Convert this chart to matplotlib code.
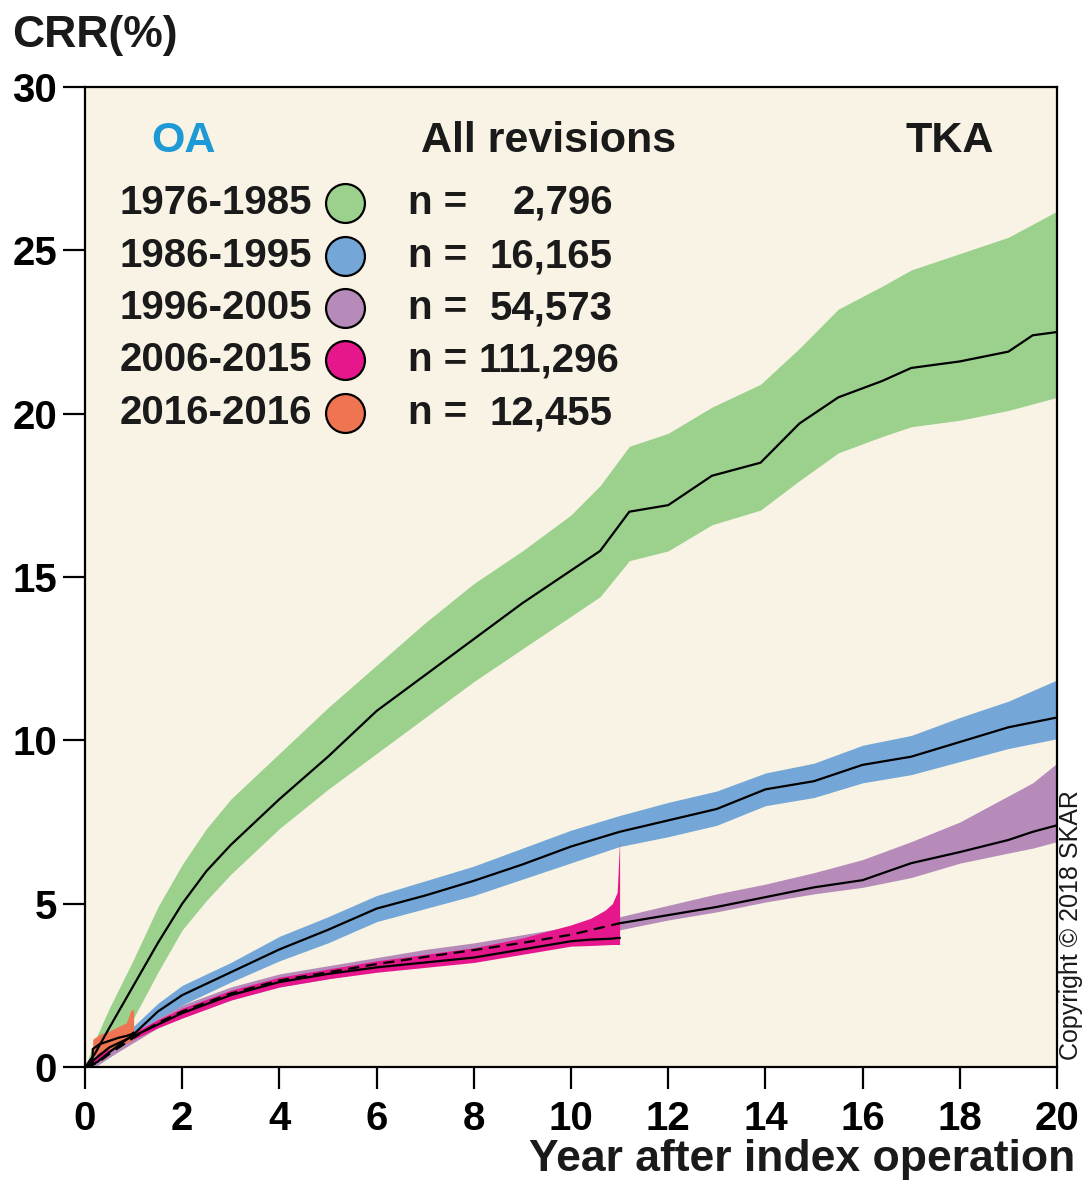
import matplotlib
matplotlib.use("Agg")
import matplotlib.pyplot as plt

plt.rcParams['font.family'] = ['Liberation Sans', 'DejaVu Sans']
plt.rcParams['font.weight'] = 'bold'

# 1976-1985
green_x = [0, 0.2, 0.5, 1, 1.5, 2, 2.5, 3, 4, 5, 6, 7, 8, 9, 10, 10.6, 11.2, 12, 12.9, 13.9,
           14.7, 15.5, 16.4, 17, 18, 19, 19.5, 20]
green_med = [0, 0.4, 1.2, 2.5, 3.8, 5.0, 6.0, 6.8, 8.2, 9.5, 10.9, 12.0, 13.1, 14.2, 15.2, 15.8,
             17.0, 17.2, 18.1, 18.5, 19.7, 20.5, 21.0, 21.4, 21.6, 21.9, 22.4, 22.5]
green_hi = [0, 0.8, 1.8, 3.3, 4.9, 6.2, 7.3, 8.2, 9.6, 11.0, 12.3, 13.6, 14.8, 15.8, 16.9, 17.8,
            19.0, 19.4, 20.2, 20.9, 22.0, 23.2, 23.9, 24.4, 24.9, 25.4, 25.8, 26.2]
green_lo = [0, 0.1, 0.7, 1.5, 2.9, 4.2, 5.1, 5.9, 7.3, 8.5, 9.6, 10.7, 11.8, 12.8, 13.8, 14.4,
            15.5, 15.8, 16.6, 17.05, 17.95, 18.8, 19.3, 19.6, 19.8, 20.1, 20.3, 20.5]

# 1986-1995
blue_x = [0, 0.25, 0.5, 1, 1.5, 2, 3, 4, 5, 6, 7, 8, 9, 10, 11, 12, 13, 14, 15, 16, 17, 18, 19, 20]
blue_med = [0, 0.15, 0.45, 1.0, 1.7, 2.2, 2.9, 3.6, 4.2, 4.85, 5.25, 5.7, 6.2, 6.75, 7.2, 7.55,
            7.9, 8.5, 8.75, 9.25, 9.5, 9.95, 10.4, 10.7]
blue_hi = [0, 0.3, 0.65, 1.25, 1.95, 2.5, 3.2, 4.0, 4.6, 5.25, 5.7, 6.15, 6.7, 7.25, 7.7, 8.1,
           8.45, 9.0, 9.3, 9.85, 10.15, 10.7, 11.2, 11.85]
blue_lo = [0, 0.05, 0.3, 0.8, 1.45, 1.9, 2.6, 3.25, 3.8, 4.45, 4.85, 5.25, 5.75, 6.25, 6.75, 7.05,
           7.4, 8.0, 8.25, 8.7, 8.95, 9.35, 9.75, 10.05]

# 1996-2005
purple_x = [0, 0.25, 0.5, 1, 1.5, 2, 3, 4, 5, 6, 7, 8, 9, 10, 11, 12, 13, 14, 15, 16, 17, 18, 19,
            19.5, 20]
purple_med = [0, 0.12, 0.4, 0.9, 1.35, 1.7, 2.25, 2.65, 2.9, 3.15, 3.37, 3.58, 3.8, 4.05, 4.4,
              4.65, 4.9, 5.2, 5.5, 5.72, 6.24, 6.58, 6.95, 7.2, 7.4]
purple_hi = [0, 0.2, 0.5, 1.05, 1.5, 1.9, 2.45, 2.85, 3.1, 3.35, 3.6, 3.8, 4.05, 4.3, 4.6, 4.95,
             5.3, 5.6, 5.95, 6.35, 6.9, 7.5, 8.3, 8.7, 9.3]
purple_lo = [0, 0.05, 0.3, 0.75, 1.2, 1.5, 2.05, 2.45, 2.7, 2.95, 3.15, 3.35, 3.55, 3.8, 4.2,
             4.5, 4.75, 5.05, 5.3, 5.5, 5.8, 6.24, 6.55, 6.7, 6.9]

# 2006-2015
pink_x = [0, 0.25, 0.5, 1, 1.5, 2, 3, 4, 5, 6, 7, 8, 9, 10, 10.4, 10.7, 10.85, 10.95, 11.0]
pink_med = [0, 0.3, 0.6, 0.95, 1.3, 1.65, 2.2, 2.6, 2.85, 3.05, 3.2, 3.35, 3.6, 3.85, 3.9, 3.92,
            3.93, 3.95, 3.95]
pink_hi = [0, 0.4, 0.7, 1.05, 1.45, 1.8, 2.35, 2.75, 3.0, 3.25, 3.45, 3.65, 3.95, 4.35, 4.55,
           4.8, 5.0, 5.35, 6.95]
pink_lo = [0, 0.2, 0.5, 0.85, 1.2, 1.5, 2.05, 2.45, 2.7, 2.9, 3.05, 3.2, 3.45, 3.7, 3.72, 3.74,
           3.75, 3.75, 3.75]

# 2016-2016
orange_x = [0, 0.15, 0.16, 0.3, 0.5, 0.7, 0.85, 0.95, 1.0]
orange_med = [0, 0, 0.55, 0.7, 0.8, 0.9, 0.95, 1.0, 1.05]
orange_hi = [0, 0, 0.85, 1.0, 1.1, 1.25, 1.35, 1.75, 1.75]
orange_lo = [0, 0, 0.3, 0.45, 0.55, 0.65, 0.75, 0.8, 0.85]

periods = ["1976-1985", "1986-1995", "1996-2005", "2006-2015", "2016-2016"]
counts = ["2,796", "16,165", "54,573", "111,296", "12,455"]
colors = ["#9BD08D", "#74A7D7", "#B68BBA", "#E6168C", "#EE7452"]

fig = plt.figure(figsize=(10.83, 11.89), dpi=100)
ax = fig.add_axes([0.0785, 0.1026, 0.8975, 0.8242])
ax.set_facecolor("#F8F3E4")

bands = [(green_x, green_lo, green_hi), (blue_x, blue_lo, blue_hi),
         (purple_x, purple_lo, purple_hi), (pink_x, pink_lo, pink_hi),
         (orange_x, orange_lo, orange_hi)]
for (x, lo, hi), c in zip(bands, colors):
    ax.fill_between(x, lo, hi, color=c, lw=0, zorder=2)

lw = 1.6
ax.plot(green_x, green_med, color="black", lw=lw, zorder=3)
ax.plot(blue_x, blue_med, color="black", lw=lw, zorder=3)
k = purple_x.index(11)
ax.plot(purple_x[:k + 1], purple_med[:k + 1], color="black", lw=lw, ls=(0, (5, 3)), zorder=3)
ax.plot(purple_x[k:], purple_med[k:], color="black", lw=lw, zorder=3)
ax.plot(pink_x, pink_med, color="black", lw=lw, zorder=3)
ax.plot(orange_x, orange_med, color="black", lw=lw, zorder=3)

ax.set_xlim(0, 20)
ax.set_ylim(0, 30)
ax.set_xticks(range(0, 21, 2))
ax.set_yticks(range(0, 31, 5))
ax.tick_params(axis='x', direction='out', length=16, width=1.6, pad=8, labelsize=29)
ax.tick_params(axis='y', direction='out', length=16, width=1.6, pad=4, labelsize=29)
for lab in ax.get_xticklabels() + ax.get_yticklabels():
    lab.set_fontweight('bold')
for s in ax.spines.values():
    s.set_linewidth(1.6)

# legend block
ax.text(2.02, 28.35, "OA", color="#1D9AD6", fontsize=31, fontweight='bold', ha='center', va='center')
ax.text(9.53, 28.35, "All revisions", color="#1a1a1a", fontsize=31, fontweight='bold', ha='center', va='center')
ax.text(17.8, 28.35, "TKA", color="#1a1a1a", fontsize=31, fontweight='bold', ha='center', va='center')
rows_y = [26.45, 24.82, 23.23, 21.64, 20.02]
for yy, p, n, c in zip(rows_y, periods, counts, colors):
    ax.text(4.67, yy, p, fontsize=29, fontweight='bold', ha='right', va='center', color="#1a1a1a")
    ax.plot([5.35], [yy], marker='o', ms=28, mfc=c, mec="black", mew=1.6, clip_on=False, zorder=5)
    ax.text(6.65, yy, "n =", fontsize=29, fontweight='bold', ha='left', va='center', color="#1a1a1a")
    right = 11.0 if len(n) > 6 else 10.86
    ax.text(right, yy, n, fontsize=29, fontweight='bold', ha='right', va='center', color="#1a1a1a")

fig.text(12 / 1083, 1 - 35 / 1189, "CRR(%)", fontsize=32, fontweight='bold', ha='left', va='center',
         color="#1a1a1a")
fig.text(1075 / 1083, 1 - 1160 / 1189, "Year after index operation", fontsize=32, fontweight='bold',
         ha='right', va='center', color="#1a1a1a")
fig.text(1071 / 1083, 1 - 925 / 1189, "Copyright \u00a9 2018 SKAR", fontsize=18, fontweight='normal',
         rotation=90, ha='center', va='center', color="#1a1a1a")

fig.savefig("out.png", dpi=100)
